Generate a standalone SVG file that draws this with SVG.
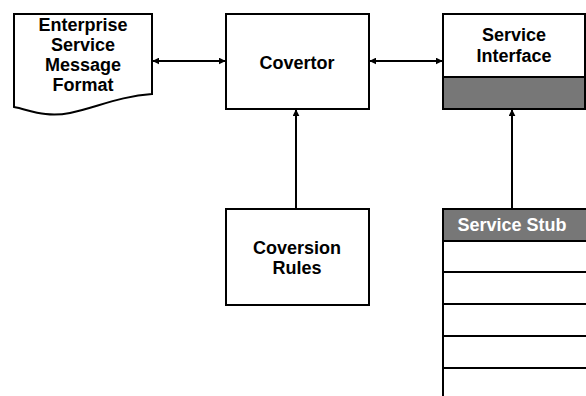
<svg xmlns="http://www.w3.org/2000/svg" width="586" height="396" viewBox="0 0 586 396">
<defs>
<marker id="ah" viewBox="0 0 10 10" refX="9" refY="5" markerWidth="7" markerHeight="7" markerUnits="userSpaceOnUse" orient="auto-start-reverse">
<path d="M0,0 L10,5 L0,10 z" fill="#000"/>
</marker>
<style>
.box{fill:#fff;stroke:#000;stroke-width:2}
.grey{fill:#777;stroke:#000;stroke-width:2}
.t{font-family:"Liberation Sans",Arial,sans-serif;font-weight:bold;font-size:18px;text-anchor:middle;fill:#000}
.w{fill:#fff}
.c{stroke:#000;stroke-width:2;fill:none}
</style>
</defs>
<g id="connectors">
<line class="c" x1="153" y1="61" x2="225" y2="61" marker-start="url(#ah)" marker-end="url(#ah)"/>
<line class="c" x1="370" y1="61" x2="442" y2="61" marker-start="url(#ah)" marker-end="url(#ah)"/>
<line class="c" x1="296" y1="209" x2="296" y2="110" marker-end="url(#ah)"/>
<line class="c" x1="512" y1="209" x2="512" y2="110" marker-end="url(#ah)"/>
</g>
<g id="enterprise">
<path class="box" d="M14,14 H152 V94 C120,96 95,108 70,113 C45,118 30,110 14,107 Z"/>
<text class="t" x="83" y="31">Enterprise</text>
<text class="t" x="83" y="51">Service</text>
<text class="t" x="83" y="71">Message</text>
<text class="t" x="83" y="91">Format</text>
</g>
<g id="covertor">
<rect class="box" x="226" y="14" width="143" height="95"/>
<text class="t" x="297" y="69">Covertor</text>
</g>
<g id="service-interface">
<rect class="box" x="443" y="14" width="142" height="63"/>
<rect class="grey" x="443" y="77" width="142" height="32"/>
<text class="t" x="514" y="41">Service</text>
<text class="t" x="514" y="62">Interface</text>
</g>
<g id="coversion-rules">
<rect class="box" x="226" y="209" width="143" height="96"/>
<text class="t" x="297" y="254">Coversion</text>
<text class="t" x="297" y="274">Rules</text>
</g>
<g id="service-stub">
<rect class="grey" x="443" y="209" width="150" height="32"/>
<path class="c" d="M443,241 V397 M443,272 H590 M443,304 H590 M443,336 H590 M443,368 H590"/>
<text class="t w" x="512" y="231">Service Stub</text>
</g>
</svg>
